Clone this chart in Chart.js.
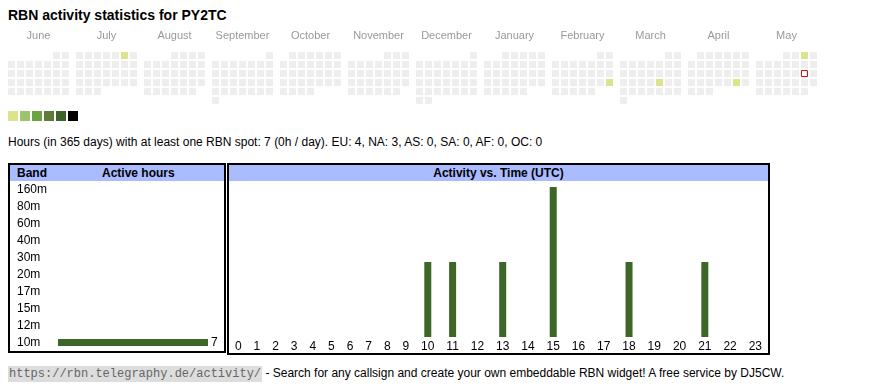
<!DOCTYPE html>
<html>
<head>
<meta charset="utf-8">
<script src="https://cdn.jsdelivr.net/npm/chart.js@4.4.1/dist/chart.umd.min.js"></script>
<style>
  body { margin: 0; width: 870px; height: 390px; position: relative; overflow: hidden; background: #fff;
         font-family: Arial, "Liberation Sans", sans-serif; color: #000; }
  .abs { position: absolute; }
  #title { left: 8px; top: 7px; font-size: 14px; font-weight: bold; white-space: nowrap; }
  #legend { left: 8px; top: 111px; height: 10px; }
  #legend span { display: inline-block; width: 10px; height: 10px; margin-right: 2px; vertical-align: top; }
  #stats { left: 8px; top: 135px; font-size: 12px; white-space: nowrap; }
  .box { border: 2px solid #000; box-sizing: border-box; }
  .head { position: absolute; left: 0; right: 0; top: 0; height: 16px; background: #aabbff;
          font-size: 12px; font-weight: bold; line-height: 16px; }
  #footer { left: 8px; top: 366px; font-size: 12px; white-space: nowrap; }
  #footer code { font-family: "Liberation Mono", "DejaVu Sans Mono", monospace; font-size: 12px;
                 color: #666; background: #ddd; padding: 1px 1px; }
</style>
</head>
<body>
<div id="title" class="abs">RBN activity statistics for PY2TC</div>

<canvas id="calendar" class="abs" width="870" height="78" style="left:0;top:30px"></canvas>

<div id="legend" class="abs"></div>
<div id="stats" class="abs"></div>

<div class="abs box" style="left:8px;top:163px;width:218px;height:190px">
  <div class="head"><span style="position:absolute;left:7px">Band</span><span style="position:absolute;left:92px">Active hours</span></div>
</div>
<div class="abs box" style="left:227px;top:163px;width:543px;height:192px">
  <div class="head" style="text-align:center">Activity vs. Time (UTC)</div>
</div>
<canvas id="bandChart" class="abs" width="207" height="170" style="left:17px;top:181px"></canvas>
<canvas id="hourChart" class="abs" width="539" height="172" style="left:229px;top:181px"></canvas>

<div id="footer" class="abs"><code>https://rbn.telegraphy.de/activity/</code> - Search for any callsign and create your own embeddable RBN widget! A free service by DJ5CW.</div>

<script>
// ---- data ----
const monthNames = ['June', 'July', 'August', 'September', 'October', 'November',
                    'December', 'January', 'February', 'March', 'April', 'May'];
const firstMonth = { year: 2024, month: 5 };   // June 2024 (0-based month)
const today = '2025-05-17';
const activeDays = ['2024-07-06', '2025-02-23', '2025-03-21', '2025-04-26', '2025-05-03'];
const activeDayHours = [1, 2, 1, 1, 2];

const levelColors = ['#dbe38b', '#9dc46a', '#6ca443', '#5f7b3a', '#3b6528', '#000000'];

const bands = ['160m', '80m', '60m', '40m', '30m', '20m', '17m', '15m', '12m', '10m'];
const bandHours = [0, 0, 0, 0, 0, 0, 0, 0, 0, 7];

const hourLabels = ['0', '1', '2', '3', '4', '5', '6', '7', '8', '9', '10', '11',
                    '12', '13', '14', '15', '16', '17', '18', '19', '20', '21', '22', '23'];
const hourValues = [0, 0, 0, 0, 0, 0, 0, 0, 0, 0, 1, 1, 0, 1, 0, 2, 0, 0, 1, 0, 0, 1, 0, 0];

const statsText = 'Hours (in 365 days) with at least one RBN spot: 7 (0h / day). EU: 4, NA: 3, AS: 0, SA: 0, AF: 0, OC: 0';

Chart.defaults.font.family = 'Arial, "Liberation Sans", sans-serif';
Chart.defaults.color = '#000';

document.getElementById('stats').textContent = statsText;
const legendBox = document.getElementById('legend');
levelColors.forEach(c => {
    const s = document.createElement('span');
    s.style.background = c;
    legendBox.appendChild(s);
});

// ---- calendar grid (one block of 7 weekday columns per month) ----
const CELL = 9, MONTH_W = 68, LEFT = 8;
const cells = [], cellColors = [], todayCell = [];
for (let m = 0; m < 12; m++) {
    const y = firstMonth.year + Math.floor((firstMonth.month + m) / 12);
    const mo = (firstMonth.month + m) % 12;
    const days = new Date(Date.UTC(y, mo + 1, 0)).getUTCDate();
    const offset = (new Date(Date.UTC(y, mo, 1)).getUTCDay() + 6) % 7;
    for (let d = 1; d <= days; d++) {
        const pos = d - 1 + offset;
        const pt = { x: LEFT + m * MONTH_W + (pos % 7) * CELL + 3.5, y: Math.floor(pos / 7) };
        const key = y + '-' + String(mo + 1).padStart(2, '0') + '-' + String(d).padStart(2, '0');
        const idx = activeDays.indexOf(key);
        if (key === today) { todayCell.push(pt); continue; }
        cells.push(pt);
        cellColors.push(idx >= 0 && activeDayHours[idx] > 0 ? levelColors[0] : '#eeeeee');
    }
}
const monthCenters = monthNames.map((n, m) => LEFT + m * MONTH_W + 3 * CELL + 3.5);

new Chart(document.getElementById('calendar'), {
    type: 'scatter',
    data: {
        datasets: [{
            data: cells,
            pointBackgroundColor: cellColors,
            pointStyle: 'rect',
            pointRadius: 7 / Math.SQRT2,
            pointBorderWidth: 0
        }, {
            data: todayCell,
            pointBackgroundColor: '#ffffff',
            pointBorderColor: '#ff0000',
            pointBorderWidth: 1,
            pointStyle: 'rect',
            pointRadius: 6 / Math.SQRT2
        }]
    },
    options: {
        responsive: false,
        animation: false,
        events: [],
        layout: { padding: 0, autoPadding: false },
        plugins: { legend: { display: false }, tooltip: { enabled: false } },
        scales: {
            x: {
                type: 'linear', position: 'top', min: 0, max: 870,
                grid: { display: false, drawTicks: false }, border: { display: false },
                afterFit: s => { s.height = 16.5; s.paddingLeft = 0; s.paddingRight = 0; },
                afterBuildTicks: s => { s.ticks = monthCenters.map(v => ({ value: v })); },
                ticks: { autoSkip: false, maxRotation: 0, padding: 4, color: '#999',
                         font: { size: 11 }, callback: (v, i) => monthNames[i] }
            },
            y: { display: false, reverse: true, min: -1, max: -1 + 61.5 / CELL }
        }
    }
});

// ---- band table ----
const valueLabels = {
    id: 'valueLabels',
    afterDatasetsDraw(chart) {
        const ctx = chart.ctx;
        ctx.save();
        ctx.font = '12px Arial, "Liberation Sans", sans-serif';
        ctx.fillStyle = '#000';
        ctx.textBaseline = 'middle';
        chart.getDatasetMeta(0).data.forEach((bar, i) => {
            if (bandHours[i] > 0) ctx.fillText(bandHours[i], bar.x + 3, bar.y);
        });
        ctx.restore();
    }
};

new Chart(document.getElementById('bandChart'), {
    type: 'bar',
    data: {
        labels: bands,
        datasets: [{ data: bandHours, backgroundColor: '#3d6629', barThickness: 7,
                     borderWidth: 0, inflateAmount: 0 }]
    },
    options: {
        indexAxis: 'y',
        responsive: false,
        animation: false,
        events: [],
        layout: { padding: { right: 16 } },
        plugins: { legend: { display: false }, tooltip: { enabled: false } },
        scales: {
            x: { display: false, min: 0, max: 7 },
            y: {
                grid: { display: false, drawTicks: false }, border: { display: false },
                afterFit: s => { s.width = 41; s.paddingTop = 0; s.paddingBottom = 0; },
                ticks: { autoSkip: false, crossAlign: 'far', padding: 0, font: { size: 12 }, color: '#000' }
            }
        }
    },
    plugins: [valueLabels]
});

// ---- activity vs. time: columns sized like table cells around their labels ----
const measure = document.createElement('canvas').getContext('2d');
measure.font = '12px Arial, "Liberation Sans", sans-serif';
const colWidths = hourLabels.map(l => measure.measureText(l).width + 12);
const hourCenters = [];
let acc = 0;
colWidths.forEach(w => { hourCenters.push(acc + w / 2); acc += w; });

new Chart(document.getElementById('hourChart'), {
    type: 'bar',
    data: {
        datasets: [{
            data: hourValues.map((v, i) => ({ x: hourCenters[i], y: v })),
            backgroundColor: '#3d6629',
            barThickness: 7,
            borderWidth: 0,
            inflateAmount: 0
        }]
    },
    options: {
        responsive: false,
        animation: false,
        events: [],
        layout: { padding: { top: 6 } },
        plugins: { legend: { display: false }, tooltip: { enabled: false } },
        scales: {
            x: {
                type: 'linear', min: 0, max: acc, offset: false,
                grid: { display: false, drawTicks: false }, border: { display: false },
                afterFit: s => { s.height = 16; },
                afterBuildTicks: s => { s.ticks = hourCenters.map(v => ({ value: v })); },
                ticks: { autoSkip: false, maxRotation: 0, padding: 2, font: { size: 12 },
                         color: '#000', callback: (v, i) => hourLabels[i] }
            },
            y: { display: false, min: 0, max: 2 }
        }
    }
});
</script>
</body>
</html>
